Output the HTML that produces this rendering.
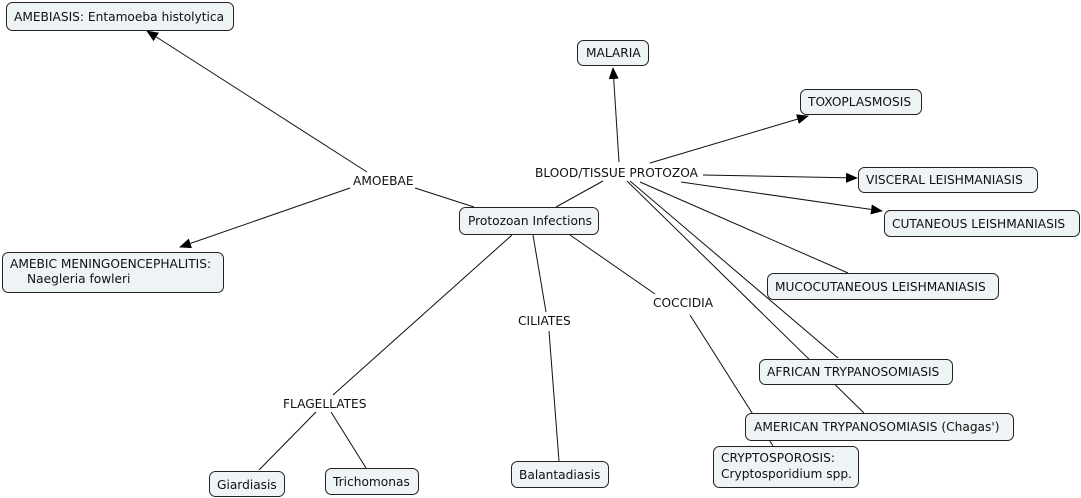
<!DOCTYPE html>
<html><head><meta charset="utf-8"><style>
html,body{margin:0;padding:0;background:#fff;width:1081px;height:498px;overflow:hidden}
svg{display:block}
text{font-family:"DejaVu Sans","Liberation Sans",sans-serif;font-size:12.2px;fill:#111}
rect{fill:#eef3f5;stroke:#222;stroke-width:1}
line{stroke:#111;stroke-width:1}
</style></head><body>
<svg width="1081" height="498" xmlns="http://www.w3.org/2000/svg">
<defs><marker id="a" markerWidth="12" markerHeight="10" refX="11" refY="5" orient="auto" markerUnits="userSpaceOnUse"><path d="M0,0 L12,5 L0,10 z" fill="#000"/></marker></defs>
<line x1="474" y1="207" x2="415" y2="188"/>
<line x1="367" y1="172" x2="147" y2="31" marker-end="url(#a)"/>
<line x1="350" y1="188" x2="180" y2="247" marker-end="url(#a)"/>
<line x1="556" y1="207" x2="603" y2="181"/>
<line x1="619" y1="162" x2="613" y2="68" marker-end="url(#a)"/>
<line x1="650" y1="163" x2="808" y2="116" marker-end="url(#a)"/>
<line x1="703" y1="175" x2="857" y2="178" marker-end="url(#a)"/>
<line x1="681" y1="182" x2="882" y2="211" marker-end="url(#a)"/>
<line x1="640" y1="182" x2="848" y2="273"/>
<line x1="630" y1="181" x2="838" y2="358"/>
<line x1="627" y1="181" x2="864" y2="413"/>
<line x1="512" y1="235" x2="333" y2="395"/>
<line x1="533" y1="235" x2="546" y2="312"/>
<line x1="570" y1="235" x2="655" y2="294"/>
<line x1="316" y1="412" x2="259" y2="470"/>
<line x1="331" y1="412" x2="366" y2="468"/>
<line x1="549" y1="331" x2="559" y2="461"/>
<line x1="690" y1="315" x2="773" y2="446"/>
<rect x="6.5" y="2.5" width="227" height="28" rx="6"/><text x="14" y="21">AMEBIASIS: Entamoeba histolytica</text>
<rect x="2.5" y="252.5" width="221" height="40" rx="6"/><text x="10" y="268">AMEBIC MENINGOENCEPHALITIS:</text><text x="27" y="283">Naegleria fowleri</text>
<rect x="459.5" y="207.5" width="139" height="27" rx="6"/><text x="468" y="225">Protozoan Infections</text>
<rect x="577.5" y="40.5" width="71" height="25" rx="6"/><text x="586" y="57">MALARIA</text>
<rect x="800.5" y="89.5" width="121" height="25" rx="6"/><text x="808" y="106">TOXOPLASMOSIS</text>
<rect x="858.5" y="167.5" width="179" height="25" rx="6"/><text x="866" y="184">VISCERAL LEISHMANIASIS</text>
<rect x="884.5" y="210.5" width="195" height="26" rx="6"/><text x="892" y="228">CUTANEOUS LEISHMANIASIS</text>
<rect x="767.5" y="273.5" width="231" height="26" rx="6"/><text x="775" y="291">MUCOCUTANEOUS LEISHMANIASIS</text>
<rect x="759.5" y="359.5" width="193" height="25" rx="6"/><text x="767" y="376">AFRICAN TRYPANOSOMIASIS</text>
<rect x="745.5" y="413.5" width="268" height="27" rx="6"/><text x="754" y="431">AMERICAN TRYPANOSOMIASIS (Chagas')</text>
<rect x="713.5" y="446.5" width="145" height="41" rx="6"/><text x="721" y="462">CRYPTOSPOROSIS:</text><text x="721" y="478">Cryptosporidium spp.</text>
<rect x="209.5" y="471.5" width="75" height="25" rx="6"/><text x="217" y="489">Giardiasis</text>
<rect x="325.5" y="468.5" width="93" height="26" rx="6"/><text x="333" y="486">Trichomonas</text>
<rect x="511.5" y="461.5" width="97" height="26" rx="6"/><text x="519" y="479">Balantadiasis</text>
<text x="353" y="185">AMOEBAE</text>
<text x="535" y="177">BLOOD/TISSUE PROTOZOA</text>
<text x="283" y="408">FLAGELLATES</text>
<text x="518" y="325">CILIATES</text>
<text x="653" y="307">COCCIDIA</text>
</svg>
</body></html>
